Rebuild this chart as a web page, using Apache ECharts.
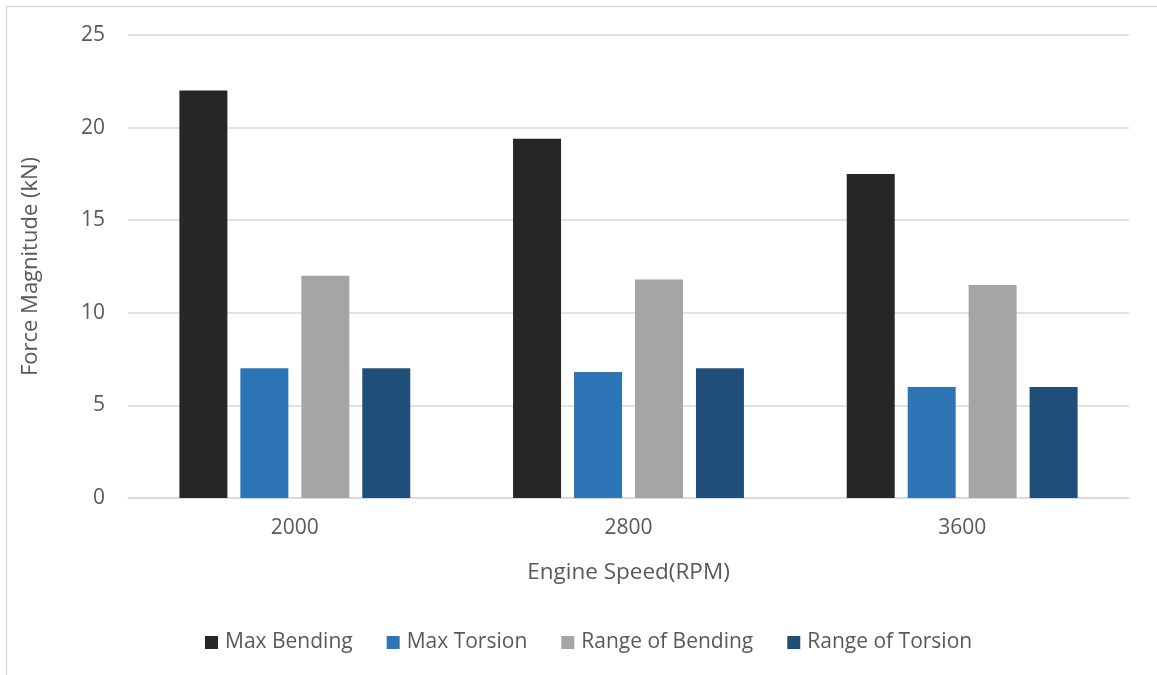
<!DOCTYPE html>
<html>
<head>
<meta charset="utf-8">
<script src="https://cdn.jsdelivr.net/npm/echarts@6/dist/echarts.min.js"></script>
<style>
  html, body { margin: 0; padding: 0; background: #ffffff; }
  #chart { width: 1157px; height: 675px; }
</style>
</head>
<body>
<div id="chart"></div>
<script>
// Engine speeds (RPM)
const categories = ['2000', '2800', '3600'];
// Force magnitudes (kN)
const maxBending = [22, 19.4, 17.5];
const maxTorsion = [7, 6.8, 6];
const rangeBending = [12, 11.8, 11.5];
const rangeTorsion = [7, 7, 6];
const seriesNames = ['Max Bending', 'Max Torsion', 'Range of Bending', 'Range of Torsion'];
const seriesColors = ['#262626', '#2E75B6', '#A5A5A5', '#1F4E79'];
const seriesData = [maxBending, maxTorsion, rangeBending, rangeTorsion];

const font = '"Open Sans", "DejaVu Sans", sans-serif';
const textColor = '#595959';

const chart = echarts.init(document.getElementById('chart'), null, { renderer: 'canvas' });
chart.setOption({
  backgroundColor: '#ffffff',
  animation: false,
  textStyle: { fontFamily: font },
  graphic: [{
    type: 'rect',
    shape: { x: 6.5, y: 6.5, width: 1300, height: 800 },
    style: { fill: 'none', stroke: '#d9d9d9', lineWidth: 1.5 },
    silent: true
  }],
  grid: { left: 128, right: 28, top: 35, bottom: 177, containLabel: false },
  legend: {
    data: seriesNames,
    top: 627,
    left: 200,
    icon: 'rect',
    itemWidth: 13,
    itemHeight: 13,
    itemGap: 34,
    textStyle: { fontFamily: font, fontSize: 21, color: textColor, padding: [0, 0, 0, 2] }
  },
  xAxis: {
    type: 'category',
    data: categories,
    name: 'Engine Speed(RPM)',
    nameLocation: 'middle',
    nameGap: 63,
    nameTextStyle: { fontFamily: font, fontSize: 22.5, color: textColor },
    axisLine: { lineStyle: { color: '#d9d9d9', width: 1.5 } },
    axisTick: { show: false },
    axisLabel: { fontFamily: font, fontSize: 21, color: textColor, margin: 20 }
  },
  yAxis: {
    type: 'value',
    min: 0,
    max: 25,
    interval: 5,
    name: 'Force Magnitude (kN)',
    nameLocation: 'middle',
    nameGap: 86,
    nameTextStyle: { fontFamily: font, fontSize: 22, color: textColor },
    axisLine: { show: false },
    axisTick: { show: false },
    axisLabel: { fontFamily: font, fontSize: 21, color: textColor, margin: 23 },
    splitLine: { lineStyle: { color: '#d9d9d9', width: 1.5 } }
  },
  series: seriesNames.map((name, i) => ({
    name: name,
    type: 'bar',
    data: seriesData[i],
    barWidth: 48,
    barGap: '27%',
    itemStyle: { color: seriesColors[i] }
  }))
});
</script>
</body>
</html>
